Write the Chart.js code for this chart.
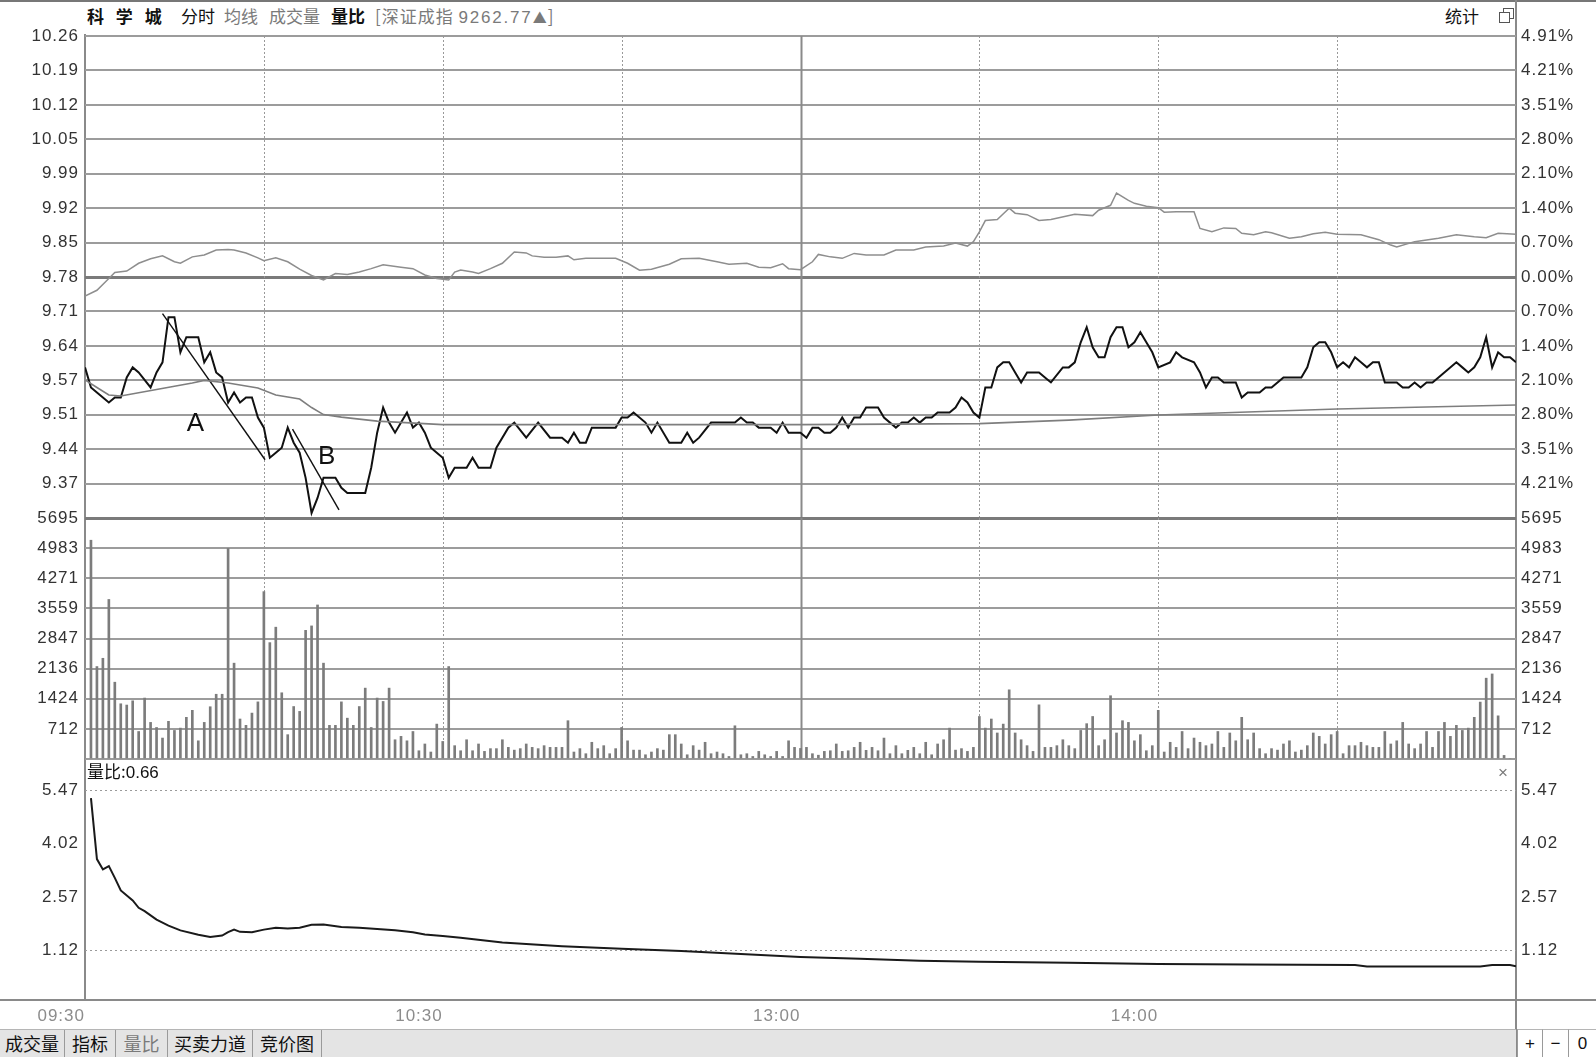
<!DOCTYPE html>
<html lang="zh-CN">
<head>
<meta charset="utf-8">
<title>科学城 分时</title>
<script src="https://cdn.jsdelivr.net/npm/chart.js@4.4.1/dist/chart.umd.min.js"></script>
<style>
  html, body { margin: 0; padding: 0; background: #fff; }
  body { position: relative; width: 1596px; height: 1057px; overflow: hidden;
         font-family: "Noto Sans CJK SC", "Liberation Sans", sans-serif; color: #111; }
  canvas { position: absolute; left: 0; }
  .txt { position: absolute; white-space: nowrap; line-height: 20px; font-size: 17px; }
  .gray { color: #7a7a7a; }
  .bold { font-weight: bold; }
  .rule { position: absolute; background: #8a8a8a; }
  #tabbar { position: absolute; left: 0; top: 1029px; width: 1516px; height: 28px; background: #e4e4e4; border-top: 1px solid #b5b5b5; }
  .tab { position: absolute; top: 0; height: 28px; line-height: 27px; text-align: center; font-size: 18px; border-right: 1px solid #9a9a9a; box-sizing: border-box; }
  .btn { position: absolute; top: 1029px; height: 28px; line-height: 27px; text-align: center; font-size: 17px; background: #fff; border-left: 1px solid #9a9a9a; border-top: 1px solid #b5b5b5; box-sizing: border-box; font-family: "Liberation Sans", sans-serif; }
  .win { position: absolute; width: 9px; height: 9px; border: 1px solid #555; background: #fff; }
</style>
</head>
<body>
<!-- frame -->
<div class="rule" style="left:0;top:0;width:1596px;height:2px;background:#777"></div>
<div class="rule" style="left:84px;top:34px;width:2px;height:966px"></div>
<div class="rule" style="left:1515px;top:0;width:2px;height:1057px"></div>
<div class="rule" style="left:0;top:999px;width:1596px;height:2px"></div>

<!-- title row -->
<span class="txt bold" style="left:87px;top:6px;letter-spacing:4px">科 学 城</span>
<span class="txt" style="left:181px;top:6px">分时</span>
<span class="txt gray" style="left:224px;top:6px">均线</span>
<span class="txt gray" style="left:269px;top:6px">成交量</span>
<span class="txt bold" style="left:331px;top:6px">量比</span>
<span class="txt gray" style="left:375px;top:6px;letter-spacing:1px">[深证成指 <span style="font-family:'Liberation Sans';letter-spacing:1.8px">9262.77</span><span style="font-size:14px">▲</span>]</span>
<span class="txt" style="left:1445px;top:6px">统计</span>
<div class="win" style="left:1503px;top:8px"></div>
<div class="win" style="left:1499px;top:12px"></div>

<canvas id="priceChart" width="1596" height="530" style="top:12px;width:1596px;height:530px"></canvas>
<canvas id="volumeChart" width="1596" height="289" style="top:494px;width:1596px;height:289px"></canvas>
<canvas id="ratioChart" width="1596" height="296" style="top:735px;width:1596px;height:296px"></canvas>

<span class="txt" style="left:87px;top:761px">量比:<span style="font-family:'Liberation Sans'">0.66</span></span>
<span class="txt gray" style="left:1498px;top:763px;font-family:'Liberation Sans'">×</span>

<div id="tabbar">
  <div class="tab" style="left:0;width:65px">成交量</div>
  <div class="tab" style="left:65px;width:51px">指标</div>
  <div class="tab gray" style="left:116px;width:52px">量比</div>
  <div class="tab" style="left:168px;width:85px">买卖力道</div>
  <div class="tab" style="left:253px;width:69px">竞价图</div>
</div>
<div class="btn" style="left:1517px;width:25px">+</div>
<div class="btn" style="left:1542px;width:26px">−</div>
<div class="btn" style="left:1568px;width:28px">0</div>

<script>
// ---- data ----
const prevClose = 9.78;
const priceTickLabels = ["10.26", "10.19", "10.12", "10.05", "9.99", "9.92", "9.85", "9.78",
  "9.71", "9.64", "9.57", "9.51", "9.44", "9.37"];
const pctTickLabels = ["4.91%", "4.21%", "3.51%", "2.80%", "2.10%", "1.40%", "0.70%", "0.00%",
  "0.70%", "1.40%", "2.10%", "2.80%", "3.51%", "4.21%"];
const volumeTickLabels = ["5695", "4983", "4271", "3559", "2847", "2136", "1424", "712"];
const ratioTickLabels = ["1.12", "2.57", "4.02", "5.47"];
const ratioTickValues = [1.12, 2.57, 4.02, 5.47];
const timeLabels = ["09:30", "10:30", "13:00", "14:00"];
const timeLabelMinutes = [0, 60, 120, 180];
const gridMinutes = [30, 60, 90, 120, 150, 180, 210];

// price (minute index since 09:30, lunch break removed)
const priceMinutes = [0, 1, 2, 4, 5, 6, 7, 8, 9, 11,
  12, 13, 14, 15, 16, 17, 19, 20, 21, 22,
  23, 24, 25, 26, 27, 28, 29, 30, 31, 32,
  33, 34, 35, 36, 37, 38, 39, 40, 42, 43,
  44, 47, 48, 49, 50, 51, 52, 53, 54, 55,
  56, 57, 58, 59, 60, 61, 62, 64, 65, 66,
  68, 69, 71, 72, 74, 76, 78, 80, 81, 82,
  83, 84, 85, 89, 90, 91, 92, 94, 95, 96,
  98, 100, 101, 102, 103, 105, 109, 110, 111, 112,
  113, 115, 116, 117, 118, 120, 121, 122, 123, 124,
  125, 126, 127, 128, 129, 130, 131, 133, 134, 136,
  137, 138, 139, 140, 141, 142, 143, 145, 146, 147,
  148, 149, 150, 151, 152, 153, 154, 155, 156, 157,
  158, 160, 161, 162, 164, 165, 166, 167, 168, 169,
  170, 171, 172, 173, 174, 175, 176, 177, 178, 179,
  180, 182, 183, 184, 186, 187, 188, 189, 190, 191,
  193, 194, 195, 197, 198, 199, 201, 204, 205, 206,
  207, 208, 209, 210, 211, 212, 213, 214, 215, 216,
  217, 218, 220, 221, 222, 223, 224, 225, 226, 227,
  230, 231, 232, 233, 234, 235, 236, 237, 238, 239,
  240];
const priceValues = [9.60, 9.56, 9.55, 9.53, 9.54, 9.54, 9.58, 9.60, 9.59, 9.56,
  9.59, 9.61, 9.70, 9.70, 9.63, 9.66, 9.66, 9.61, 9.63, 9.59,
  9.58, 9.53, 9.55, 9.53, 9.54, 9.54, 9.50, 9.48, 9.42, 9.43,
  9.44, 9.48, 9.45, 9.43, 9.38, 9.31, 9.34, 9.38, 9.38, 9.36,
  9.35, 9.35, 9.40, 9.47, 9.52, 9.49, 9.47, 9.49, 9.51, 9.48,
  9.49, 9.47, 9.44, 9.43, 9.42, 9.38, 9.40, 9.40, 9.42, 9.40,
  9.40, 9.44, 9.48, 9.49, 9.46, 9.49, 9.46, 9.46, 9.45, 9.47,
  9.45, 9.45, 9.48, 9.48, 9.50, 9.50, 9.51, 9.49, 9.47, 9.49,
  9.45, 9.45, 9.47, 9.45, 9.46, 9.49, 9.49, 9.50, 9.49, 9.49,
  9.48, 9.48, 9.47, 9.49, 9.47, 9.47, 9.46, 9.48, 9.48, 9.47,
  9.47, 9.48, 9.50, 9.48, 9.50, 9.50, 9.52, 9.52, 9.50, 9.48,
  9.49, 9.49, 9.50, 9.49, 9.50, 9.50, 9.51, 9.51, 9.52, 9.54,
  9.53, 9.51, 9.50, 9.56, 9.56, 9.60, 9.61, 9.61, 9.59, 9.57,
  9.59, 9.59, 9.58, 9.57, 9.60, 9.60, 9.61, 9.65, 9.68, 9.64,
  9.62, 9.62, 9.66, 9.68, 9.68, 9.64, 9.65, 9.67, 9.65, 9.63,
  9.60, 9.61, 9.63, 9.62, 9.61, 9.59, 9.56, 9.58, 9.58, 9.57,
  9.57, 9.54, 9.55, 9.55, 9.56, 9.56, 9.58, 9.58, 9.60, 9.64,
  9.65, 9.65, 9.63, 9.60, 9.61, 9.60, 9.62, 9.61, 9.60, 9.61,
  9.61, 9.57, 9.57, 9.56, 9.56, 9.57, 9.56, 9.57, 9.57, 9.58,
  9.61, 9.60, 9.59, 9.60, 9.62, 9.66, 9.60, 9.63, 9.62, 9.62,
  9.61];

const avgMinutes = [0, 2, 4, 6, 12, 18, 20, 24, 29, 32, 36, 38, 40, 43, 49, 60, 90, 120, 150, 165, 180, 195, 210, 225, 240];
const avgValues = [9.575, 9.56, 9.545, 9.543, 9.556, 9.569, 9.574, 9.569, 9.559, 9.545, 9.537, 9.52, 9.506, 9.501, 9.493,
  9.486, 9.486, 9.486, 9.488, 9.495, 9.505, 9.511, 9.517, 9.521, 9.525];

// 深证成指 overlay, % change vs previous close
const indexMinutes = [0, 2, 4, 5, 7, 9, 11, 13, 15, 16,
  18, 20, 22, 24, 25, 27, 29, 30, 32, 34,
  36, 38, 40, 42, 44, 46, 48, 50, 53, 55,
  57, 59, 61, 62, 63, 65, 66, 68, 70, 72,
  74, 75, 77, 79, 81, 82, 84, 89, 91, 93,
  95, 98, 100, 103, 106, 108, 111, 113, 115, 117,
  118, 120, 122, 123, 125, 127, 129, 131, 134, 136,
  139, 141, 144, 146, 148, 149, 150, 151, 153, 155,
  156, 158, 160, 162, 166, 169, 170, 172, 173, 175,
  176, 178, 180, 181, 183, 186, 187, 189, 191, 193,
  194, 196, 198, 199, 202, 204, 206, 208, 210, 214,
  217, 219, 220, 223, 227, 230, 233, 235, 237, 240];
const indexPct = [-0.39, -0.27, -0.03, 0.09, 0.12, 0.28, 0.37, 0.43, 0.31, 0.28,
  0.41, 0.45, 0.55, 0.56, 0.55, 0.49, 0.39, 0.33, 0.39, 0.31,
  0.16, 0.03, -0.06, 0.07, 0.05, 0.10, 0.17, 0.25, 0.20, 0.17,
  0.04, -0.03, -0.06, 0.10, 0.14, 0.10, 0.07, 0.17, 0.28, 0.51,
  0.49, 0.43, 0.40, 0.40, 0.43, 0.35, 0.38, 0.38, 0.28, 0.14,
  0.16, 0.26, 0.37, 0.38, 0.31, 0.26, 0.28, 0.20, 0.19, 0.27,
  0.17, 0.15, 0.31, 0.46, 0.41, 0.38, 0.48, 0.45, 0.45, 0.55,
  0.55, 0.61, 0.63, 0.69, 0.63, 0.72, 0.92, 1.15, 1.17, 1.40,
  1.30, 1.27, 1.15, 1.17, 1.28, 1.25, 1.36, 1.46, 1.71, 1.56,
  1.50, 1.44, 1.41, 1.32, 1.33, 1.33, 0.99, 0.92, 1.00, 0.99,
  0.89, 0.86, 0.92, 0.90, 0.79, 0.82, 0.88, 0.91, 0.87, 0.86,
  0.76, 0.65, 0.61, 0.72, 0.79, 0.86, 0.82, 0.80, 0.89, 0.87];

// volume per minute, index = minute
const volumeValues = [
  0, 5170, 2185, 2380, 3770, 1815, 1305, 1275, 1375, 650,
  1440, 865, 745, 495, 890, 675, 730, 985, 1150, 430,
  865, 1235, 1530, 1530, 4975, 2265, 945, 795, 1085, 1350,
  3955, 2750, 3115, 1565, 575, 1240, 1125, 3040, 3145, 3640,
  2265, 795, 795, 1350, 965, 795, 1240, 1675, 745, 1440,
  1360, 1675, 455, 535, 430, 650, 195, 355, 165, 825,
  415, 2185, 315, 195, 455, 195, 355, 180, 245, 245,
  455, 275, 210, 245, 355, 275, 245, 315, 275, 275,
  275, 905, 165, 245, 125, 395, 245, 315, 125, 245,
  745, 430, 210, 210, 100, 165, 245, 210, 575, 575,
  355, 100, 315, 210, 395, 125, 165, 125, 60, 785,
  100, 125, 60, 180, 100, 60, 180, 60, 430, 275,
  250, 275, 125, 90, 180, 195, 355, 180, 195, 275,
  395, 205, 275, 195, 495, 125, 315, 125, 205, 275,
  125, 395, 100, 355, 455, 730, 210, 245, 180, 275,
  1005, 730, 945, 615, 825, 1635, 615, 455, 315, 180,
  1280, 275, 275, 315, 455, 315, 245, 675, 835, 1005,
  315, 455, 1495, 615, 905, 865, 430, 575, 195, 315,
  1150, 165, 395, 275, 650, 245, 495, 395, 315, 355,
  650, 275, 615, 430, 985, 455, 615, 245, 125, 245,
  210, 355, 430, 165, 210, 315, 615, 535, 355, 575,
  650, 125, 315, 315, 395, 315, 275, 275, 650, 355,
  430, 865, 355, 245, 355, 650, 275, 650, 865, 535,
  795, 675, 730, 985, 1345, 1910, 2010, 1020, 85, 0,
  0];

const ratioMinutes = [1, 2, 3, 4, 5, 6, 8, 9, 10, 12,
  14, 16, 19, 21, 23, 24, 25, 26, 28, 30,
  32, 34, 36, 38, 40, 43, 46, 49, 52, 55,
  57, 60, 63, 70, 80, 90, 100, 110, 120, 130,
  140, 150, 165, 180, 195, 213, 215, 234, 236, 239,
  240];
const ratioValues = [5.25, 3.60, 3.32, 3.41, 3.09, 2.75, 2.48, 2.28, 2.19, 1.96,
  1.80, 1.67, 1.55, 1.49, 1.53, 1.62, 1.69, 1.63, 1.62, 1.69,
  1.74, 1.72, 1.74, 1.82, 1.83, 1.76, 1.74, 1.71, 1.67, 1.62,
  1.56, 1.52, 1.47, 1.34, 1.24, 1.17, 1.11, 1.03, 0.95, 0.90,
  0.85, 0.82, 0.79, 0.76, 0.745, 0.73, 0.69, 0.69, 0.73, 0.73,
  0.70];

// hand-drawn trend lines and their letters
const trendAMinutes = [13, 30.2];
const trendAPrices = [9.707, 9.416];
const trendBMinutes = [34.8, 42.6];
const trendBPrices = [9.477, 9.316];
const markText = ["A", "B"];
const markMinutes = [18.6, 40.6];
const markPrices = [9.487, 9.421];

// ---- helpers ----
const priceStep = 0.48 / 7;
const pctStep = 4.908 / 7;
const volumeMax = 5695;
const gridGray = "#9c9c9c";
const strongGray = "#7a7a7a";
const labelColor = "#333";
const tickFont = { family: "Liberation Sans", size: 17 };

const pts = (xs, ys) => xs.map((x, i) => ({ x: x, y: ys[i] }));
const pinTicks = values => scale => { scale.ticks = values.map(v => ({ value: v })); };
const fixWidth = w => scale => { scale.width = w; };

const priceTickValues = priceTickLabels.map((_, i) => prevClose + (7 - i) * priceStep)
  .concat([prevClose - 7 * priceStep]);
const pctTickValues = pctTickLabels.map((_, i) => (7 - i) * pctStep);
const volumeTickValues = volumeTickLabels.map((_, i) => volumeMax * (8 - i) / 8).concat([0]);

const spacedText = {
  id: "spacedText",
  beforeDraw(chart) { chart.ctx.letterSpacing = "1px"; }
};

const sessionGrid = {
  id: "sessionGrid",
  beforeDatasetsDraw(chart) {
    const { ctx, chartArea, scales } = chart;
    ctx.save();
    gridMinutes.forEach(m => {
      const solid = m === 120;
      const x = Math.round(scales.x.getPixelForValue(m)) + 0.5;
      ctx.beginPath();
      ctx.setLineDash(solid ? [] : [2, 2]);
      ctx.lineWidth = solid ? 2 : 1;
      ctx.strokeStyle = solid ? "#8a8a8a" : "#999";
      ctx.moveTo(x, chartArea.top);
      ctx.lineTo(x, chartArea.bottom);
      ctx.stroke();
    });
    ctx.restore();
  }
};

const markLabels = {
  id: "markLabels",
  afterDatasetsDraw(chart) {
    const { ctx, scales } = chart;
    ctx.save();
    ctx.font = '26px "Liberation Sans"';
    ctx.fillStyle = "#111";
    ctx.textAlign = "center";
    ctx.textBaseline = "middle";
    markText.forEach((t, i) => {
      ctx.fillText(t, scales.x.getPixelForValue(markMinutes[i]), scales.yPrice.getPixelForValue(markPrices[i]));
    });
    ctx.restore();
  }
};

const baseOptions = {
  responsive: false,
  animation: false,
  devicePixelRatio: 1,
  events: [],
  plugins: { legend: { display: false }, tooltip: { enabled: false } },
  elements: { point: { radius: 0 }, line: { tension: 0 } }
};

function axisTicks(labels) {
  return {
    color: labelColor, font: tickFont, autoSkip: false,
    callback: (v, i) => labels[i] !== undefined ? labels[i] : ""
  };
}

// ---- price panel ----
new Chart(document.getElementById("priceChart"), {
  type: "line",
  data: {
    datasets: [
      { data: pts(indexMinutes, indexPct), yAxisID: "yPct", borderColor: "#8e8e8e", borderWidth: 1.5 },
      { data: pts(avgMinutes, avgValues), yAxisID: "yPrice", borderColor: "#7e7e7e", borderWidth: 1.6 },
      { data: pts(priceMinutes, priceValues), yAxisID: "yPrice", borderColor: "#111", borderWidth: 2 },
      { data: pts(trendAMinutes, trendAPrices), yAxisID: "yPrice", borderColor: "#111", borderWidth: 1.4 },
      { data: pts(trendBMinutes, trendBPrices), yAxisID: "yPrice", borderColor: "#111", borderWidth: 1.4 }
    ]
  },
  options: {
    ...baseOptions,
    layout: { padding: { top: 24, bottom: 24, left: 0, right: 0 } },
    scales: {
      x: { type: "linear", min: 0, max: 240, display: false },
      yPrice: {
        position: "left", min: prevClose - 7 * priceStep, max: prevClose + 7 * priceStep,
        afterBuildTicks: pinTicks(priceTickValues), afterFit: fixWidth(85),
        border: { display: false },
        grid: {
          drawTicks: false,
          color: c => (c.index === 7 || c.index === 14) ? strongGray : gridGray,
          lineWidth: c => (c.index === 7 || c.index === 14) ? 3 : 2
        },
        ticks: { ...axisTicks(priceTickLabels), padding: 6 }
      },
      yPct: {
        position: "right", min: -4.908, max: 4.908,
        afterBuildTicks: pinTicks(pctTickValues), afterFit: fixWidth(80),
        border: { display: false },
        grid: { display: false, drawTicks: false },
        ticks: { ...axisTicks(pctTickLabels), padding: 5 }
      }
    }
  },
  plugins: [spacedText, sessionGrid, markLabels]
});

// ---- volume panel ----
new Chart(document.getElementById("volumeChart"), {
  type: "bar",
  data: {
    datasets: [{
      data: volumeValues.map((v, m) => ({ x: m, y: v })),
      yAxisID: "yVol", backgroundColor: "#7c7c7c", borderWidth: 0, barThickness: 2, grouped: false
    }]
  },
  options: {
    ...baseOptions,
    layout: { padding: { top: 24, bottom: 24, left: 0, right: 0 } },
    scales: {
      x: { type: "linear", min: 0, max: 240, offset: false, display: false },
      yVol: {
        position: "left", min: 0, max: volumeMax,
        afterBuildTicks: pinTicks(volumeTickValues), afterFit: fixWidth(85),
        border: { display: false },
        grid: {
          drawTicks: false,
          color: c => c.index === 0 ? strongGray : gridGray,
          lineWidth: c => c.index === 0 ? 3 : 2
        },
        ticks: { ...axisTicks(volumeTickLabels), padding: 6 }
      },
      yVolR: {
        position: "right", min: 0, max: volumeMax,
        afterBuildTicks: pinTicks(volumeTickValues), afterFit: fixWidth(80),
        border: { display: false },
        grid: { display: false, drawTicks: false },
        ticks: { ...axisTicks(volumeTickLabels), padding: 5 }
      }
    }
  },
  plugins: [spacedText, sessionGrid]
});

// ---- volume ratio panel ----
new Chart(document.getElementById("ratioChart"), {
  type: "line",
  data: {
    datasets: [{ data: pts(ratioMinutes, ratioValues), yAxisID: "yRatio", borderColor: "#1a1a1a", borderWidth: 2 }]
  },
  options: {
    ...baseOptions,
    layout: { padding: { top: 24, bottom: 0, left: 0, right: 0 } },
    scales: {
      x: {
        type: "linear", position: "bottom", min: 0, max: 240,
        afterBuildTicks: pinTicks(timeLabelMinutes),
        afterFit: scale => { scale.height = 29; },
        border: { display: false },
        grid: { display: false, drawTicks: false },
        ticks: { ...axisTicks(timeLabels), color: "#8c8c8c", align: "end", maxRotation: 0, padding: 4 }
      },
      yRatio: {
        position: "left", min: -0.27, max: 6.31,
        afterBuildTicks: pinTicks(ratioTickValues), afterFit: fixWidth(85),
        border: { display: false, dash: [2, 3] },
        grid: {
          drawTicks: false, lineWidth: 1,
          color: c => (c.index === 0 || c.index === 3) ? "#9a9a9a" : "rgba(0,0,0,0)"
        },
        ticks: { ...axisTicks(ratioTickLabels), padding: 6 }
      },
      yRatioR: {
        position: "right", min: -0.27, max: 6.31,
        afterBuildTicks: pinTicks(ratioTickValues), afterFit: fixWidth(80),
        border: { display: false },
        grid: { display: false, drawTicks: false },
        ticks: { ...axisTicks(ratioTickLabels), padding: 5 }
      }
    }
  },
  plugins: [spacedText]
});
</script>
</body>
</html>
